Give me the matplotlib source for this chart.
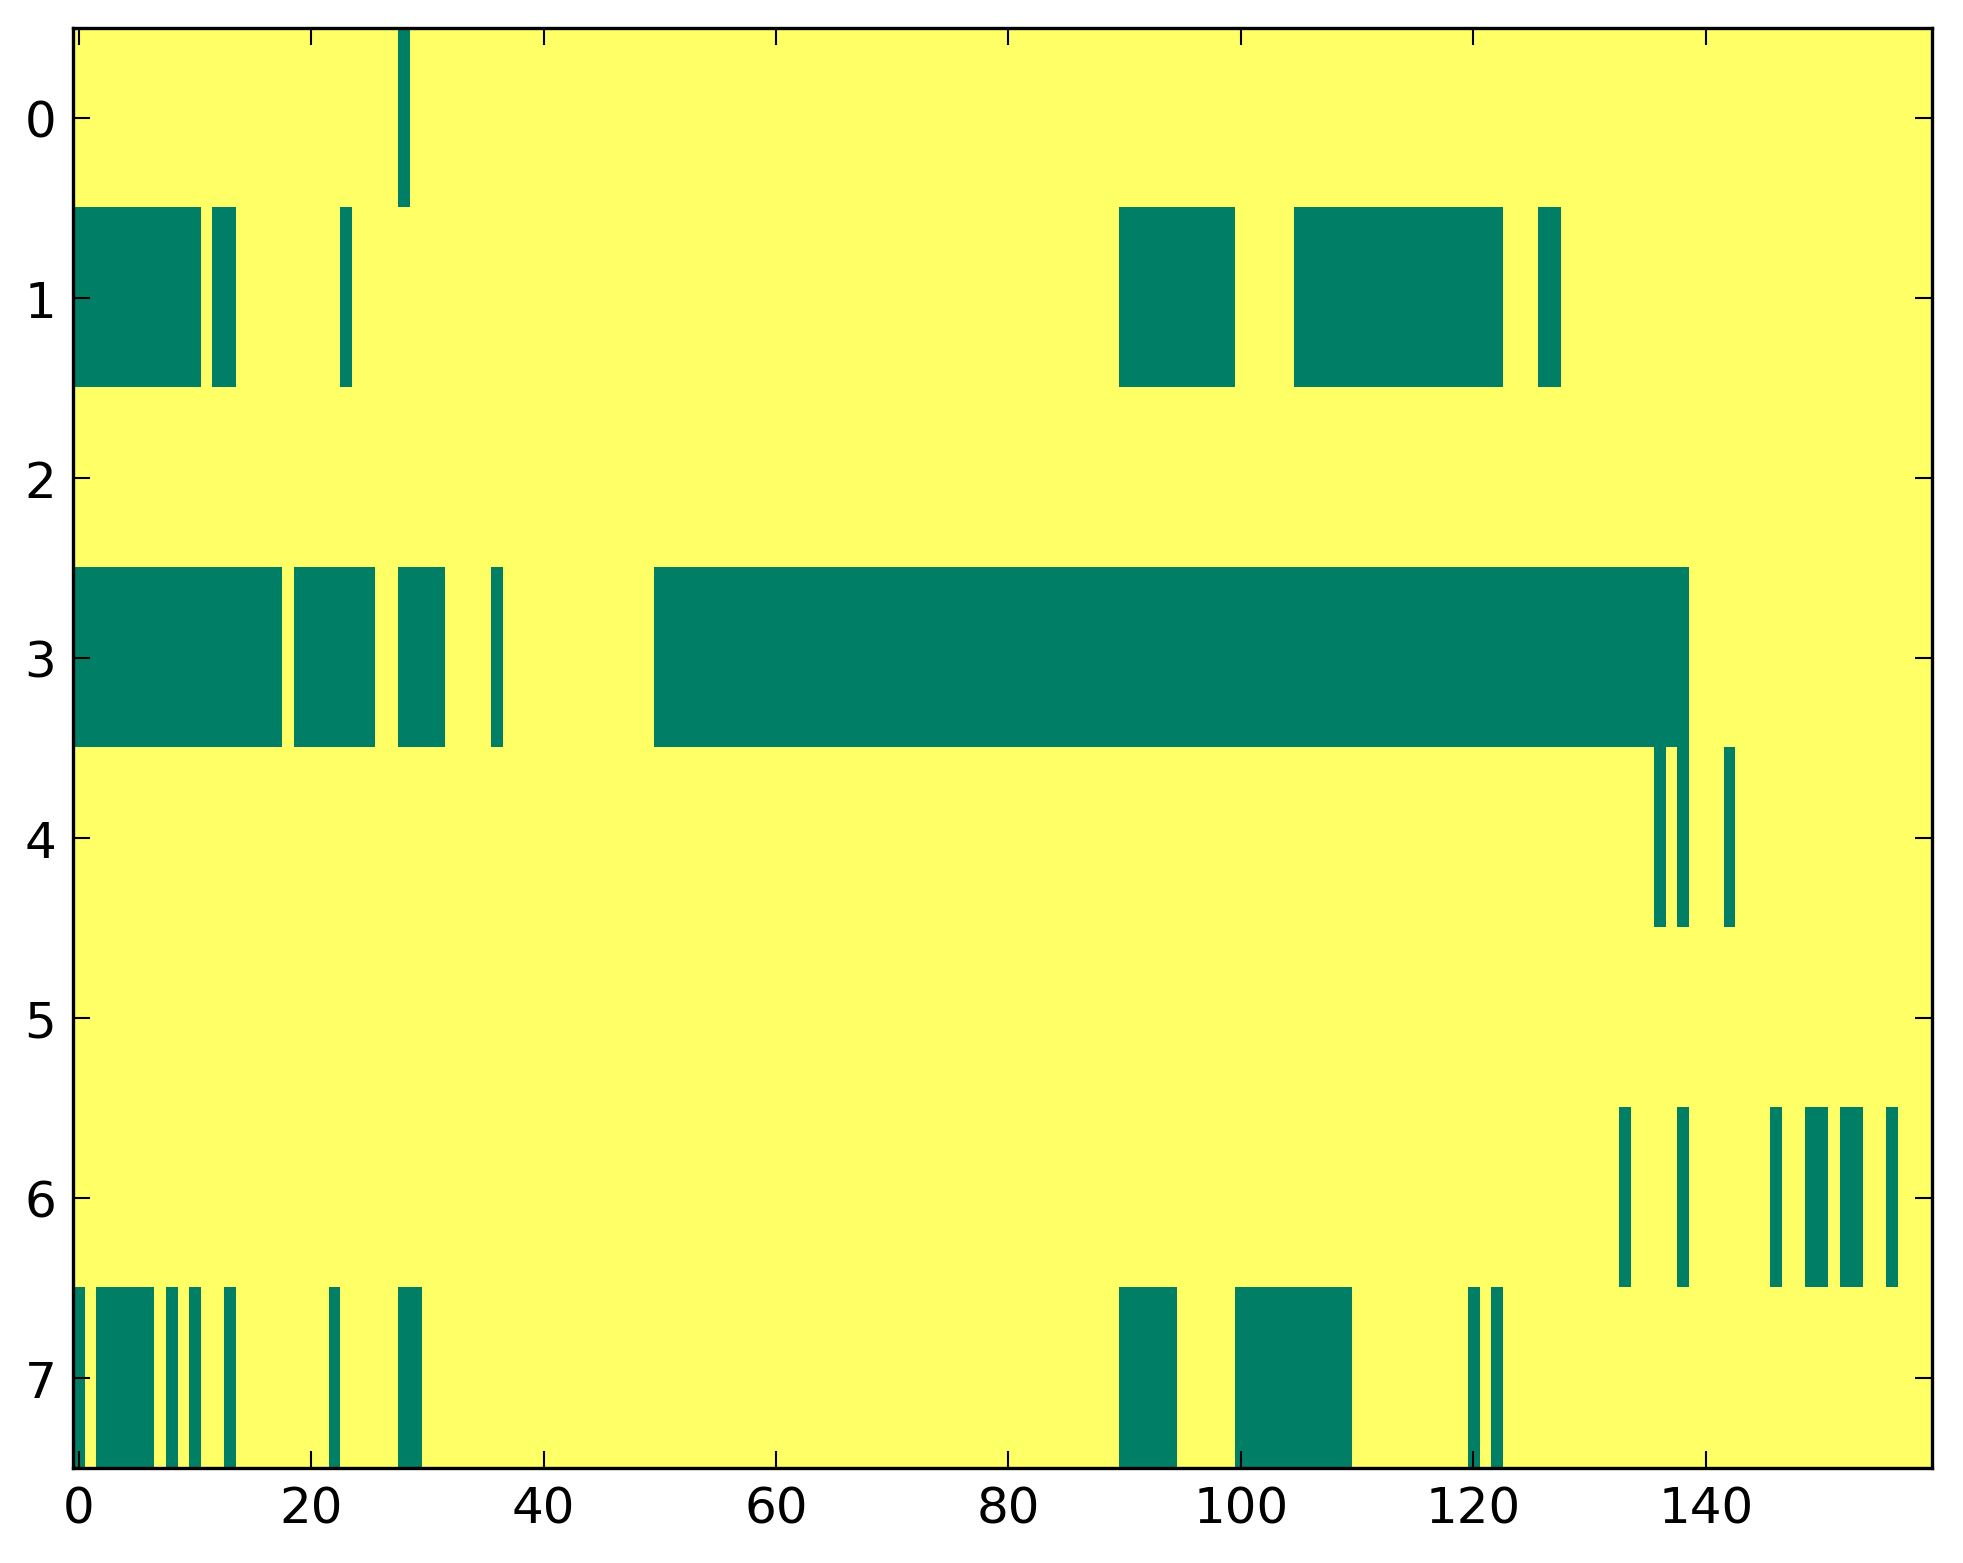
import numpy as np
import matplotlib
matplotlib.use("Agg")
import matplotlib.pyplot as plt

n_rows = 8
n_cols = 160

# green cells per row, as (start, end) inclusive column ranges
row0 = [(28, 28)]
row1 = [(0, 10), (12, 13), (23, 23), (90, 99), (105, 122), (126, 127)]
row2 = []
row3 = [(0, 17), (19, 25), (28, 31), (36, 36), (50, 138)]
row4 = [(136, 136), (138, 138), (142, 142)]
row5 = []
row6 = [(133, 133), (138, 138), (146, 146), (149, 150), (152, 153), (156, 156)]
row7 = [(0, 0), (2, 6), (8, 8), (10, 10), (13, 13), (22, 22), (28, 29),
        (90, 94), (100, 109), (120, 120), (122, 122)]
rows = [row0, row1, row2, row3, row4, row5, row6, row7]

xticks = [0, 20, 40, 60, 80, 100, 120, 140]
yticks = [0, 1, 2, 3, 4, 5, 6, 7]

mask = np.zeros((n_rows, n_cols))
for r, ranges in enumerate(rows):
    for a, b in ranges:
        mask[r, a:b + 1] = 1

fig = plt.figure(figsize=(1963 / 300, 1564 / 300), dpi=300, facecolor="white")
ax = fig.add_axes([73 / 1963, 1 - 1468.5 / 1564, (1932.3 - 73) / 1963, (1468.5 - 29) / 1564])
ax.imshow(mask, cmap="summer_r", aspect="auto", interpolation="nearest",
          vmin=0, vmax=1)
ax.set_xticks(xticks)
ax.set_yticks(yticks)
ax.set_xlim(-0.5, n_cols - 0.5)
ax.set_ylim(n_rows - 0.5, -0.5)
ax.tick_params(direction="in", top=True, right=True, length=4, width=0.5,
               labelsize=12, pad=4, colors="black")
for s in ax.spines.values():
    s.set_linewidth(0.8)
    s.set_color("black")

fig.savefig("out.png", dpi=300, facecolor="white")
